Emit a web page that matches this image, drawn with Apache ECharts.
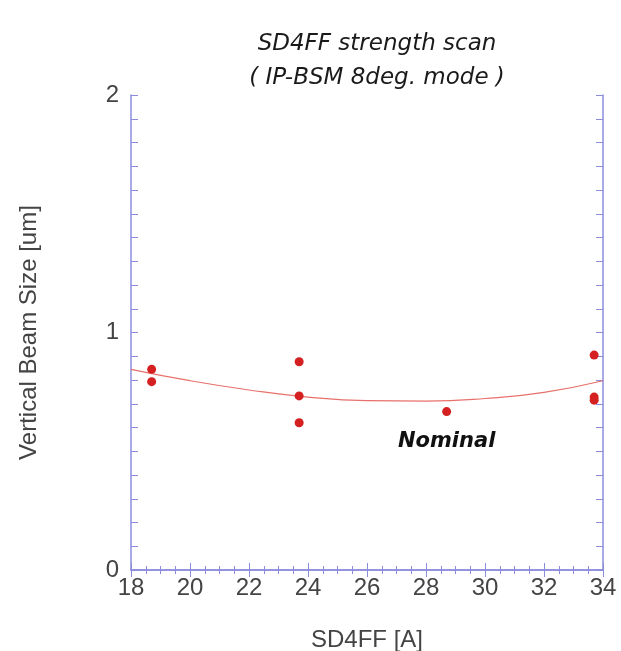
<!DOCTYPE html>
<html>
<head>
<meta charset="utf-8">
<script src="https://cdn.jsdelivr.net/npm/echarts@6/dist/echarts.min.js"></script>
<style>
  html, body { margin: 0; padding: 0; background: #fff; }
  #chart { width: 621px; height: 651px; }
</style>
</head>
<body>
<div id="chart"></div>
<script>
// measured points: SD4FF current [A] vs vertical beam size [um]
const scanCurrent = [18.7, 18.7, 23.7, 23.7, 23.7, 33.7, 33.7, 33.7];
const scanSize = [0.845, 0.793, 0.877, 0.733, 0.62, 0.905, 0.728, 0.715];
const nominalCurrent = [28.7];
const nominalSize = [0.667];
// fit curve
const fitCurrent = [18, 20, 22, 24, 26, 28, 30, 32, 34];
const fitSize = [0.845, 0.797, 0.758, 0.728, 0.713, 0.711, 0.722, 0.748, 0.797];

const axisColor = '#8c8cdc';
const labelFont = 'Liberation Sans';

const chart = echarts.init(document.getElementById('chart'));

const frameAxis = (extra) => ({
  axisLine: { show: true, lineStyle: { color: axisColor, width: 1.5 } },
  axisTick: { show: true, inside: true, length: 7, lineStyle: { color: axisColor } },
  minorTick: { show: true, length: 4, lineStyle: { color: axisColor } },
  splitLine: { show: false },
  ...extra,
});

chart.setOption({
  backgroundColor: '#fff',
  animation: false,
  title: {
    text: 'SD4FF strength scan\n( IP-BSM 8deg. mode )',
    left: 372,
    top: 22,
    textAlign: 'center',
    textStyle: {
      fontFamily: 'DejaVu Sans',
      fontStyle: 'italic',
      fontWeight: 'normal',
      fontSize: 23,
      lineHeight: 34,
      color: '#1a1a1a',
    },
  },
  grid: { left: 131, right: 18, top: 95, bottom: 81, outerBoundsMode: 'none', containLabel: false },
  xAxis: [
    frameAxis({
      type: 'value', min: 18, max: 34, interval: 2,
      minorTick: { show: true, splitNumber: 4, length: 4, lineStyle: { color: axisColor } },
      name: 'SD4FF [A]', nameLocation: 'middle', nameGap: 58,
      nameTextStyle: { fontFamily: labelFont, fontSize: 24, color: '#444' },
      axisLabel: { fontFamily: labelFont, fontSize: 24, color: '#444', margin: 6 },
    }),
    frameAxis({
      type: 'value', position: 'top', min: 18, max: 34, interval: 2,
      minorTick: { show: true, splitNumber: 4, length: 4, lineStyle: { color: axisColor } },
      axisLabel: { show: false },
    }),
  ],
  yAxis: [
    frameAxis({
      type: 'value', min: 0, max: 2, interval: 1,
      minorTick: { show: true, splitNumber: 10, length: 7, lineStyle: { color: axisColor } },
      name: 'Vertical Beam Size [um]', nameLocation: 'middle', nameGap: 90,
      nameTextStyle: { fontFamily: labelFont, fontSize: 24, color: '#444' },
      axisLabel: { fontFamily: labelFont, fontSize: 24, color: '#444', margin: 12, padding: [0, 0, 5, 0] },
    }),
    frameAxis({
      type: 'value', position: 'right', min: 0, max: 2, interval: 1,
      minorTick: { show: true, splitNumber: 10, length: 7, lineStyle: { color: axisColor } },
      axisLabel: { show: false },
    }),
  ],
  series: [
    {
      type: 'line',
      data: fitCurrent.map((x, i) => [x, fitSize[i]]),
      smooth: true,
      symbol: 'none',
      lineStyle: { color: '#e8706a', width: 1.2 },
      z: 2,
    },
    {
      type: 'scatter',
      data: scanCurrent.map((x, i) => [x, scanSize[i]]),
      symbolSize: 9,
      itemStyle: { color: '#d42020', opacity: 1 },
      z: 3,
    },
    {
      type: 'scatter',
      data: nominalCurrent.map((x, i) => [x, nominalSize[i]]),
      symbolSize: 9,
      itemStyle: { color: '#d42020', opacity: 1 },
      label: {
        show: true,
        formatter: 'Nominal',
        position: 'bottom',
        distance: 15,
        fontFamily: 'DejaVu Sans',
        fontStyle: 'italic',
        fontWeight: 'bold',
        fontSize: 21,
        color: '#111',
      },
      z: 3,
    },
  ],
});
</script>
</body>
</html>
